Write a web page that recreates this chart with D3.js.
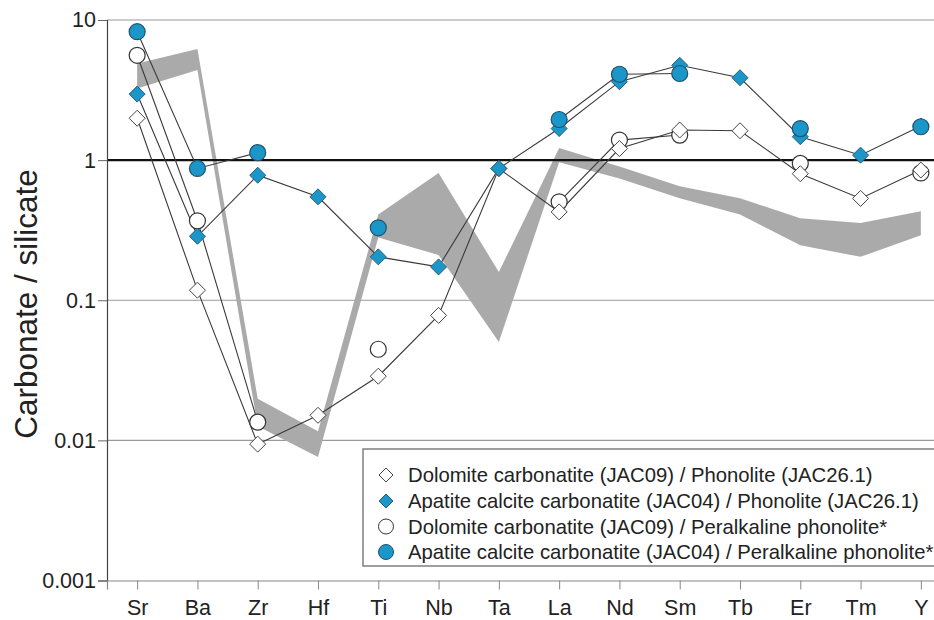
<!DOCTYPE html>
<html>
<head>
<meta charset="utf-8">
<script src="https://cdn.jsdelivr.net/npm/d3@7"></script>
<style>
  html, body { margin: 0; padding: 0; background: #fff; }
  svg { display: block; font-family: "Liberation Sans", Arial, sans-serif; }
</style>
</head>
<body>
<svg id="chart" width="934" height="620"></svg>
<script>
// ---- data ----
const categories = ["Sr","Ba","Zr","Hf","Ti","Nb","Ta","La","Nd","Sm","Tb","Er","Tm","Y"];
const yTicks = [0.001, 0.01, 0.1, 1, 10];

// Dolomite carbonatite (JAC09) / Phonolite (JAC26.1)
const dolPhon = [1.99, 0.118, 0.0094, 0.0151, 0.0287, 0.078, 0.87, 0.427, 1.21, 1.64, 1.62, 0.80, 0.533, 0.85];
// Apatite calcite carbonatite (JAC04) / Phonolite (JAC26.1)
const apPhon  = [2.96, 0.286, 0.78, 0.547, 0.204, 0.173, 0.872, 1.68, 3.63, 4.75, 3.87, 1.47, 1.085, 1.75];
// Dolomite carbonatite (JAC09) / Peralkaline phonolite*
const dolPer  = [5.6, 0.369, 0.0135, null, 0.0447, null, null, 0.504, 1.39, 1.51, null, 0.947, null, 0.81];
// Apatite calcite carbonatite (JAC04) / Peralkaline phonolite*
const apPer   = [8.25, 0.872, 1.13, null, 0.329, null, null, 1.95, 4.1, 4.15, null, 1.68, null, 1.73];

// grey reference field
const bandUpper = [4.9, 6.2, 0.0198, 0.0116, 0.41, 0.81, 0.159, 1.22, 0.9, 0.652, 0.535, 0.385, 0.356, 0.432];
const bandLower = [3.25, 4.4, 0.0126, 0.0076, 0.28, 0.21, 0.0504, 0.967, 0.74, 0.535, 0.41, 0.247, 0.204, 0.291];

const legendLabels = [
  "Dolomite carbonatite (JAC09) / Phonolite (JAC26.1)",
  "Apatite calcite carbonatite (JAC04) / Phonolite (JAC26.1)",
  "Dolomite carbonatite (JAC09) / Peralkaline phonolite*",
  "Apatite calcite carbonatite (JAC04) / Peralkaline phonolite*"
];

// ---- setup ----
const W = 934, H = 620;
const mLeft = 107, mTop = 20, mBottom = 580.5, mRight = 951;
const BLUE = "#1b96c9";
const svg = d3.select("#chart");

const x = d3.scalePoint().domain(categories).range([mLeft, mRight]).padding(0.5);
const y = d3.scaleLog().domain([0.001, 10]).range([mBottom, mTop]);

// gridlines
svg.append("g").selectAll("line").data(yTicks.filter(d => d !== 1 && d !== 0.001)).join("line")
  .attr("x1", mLeft).attr("x2", W).attr("y1", d => y(d)).attr("y2", d => y(d))
  .attr("stroke", "#9a9a9a").attr("stroke-width", 1.2);

// band
const band = categories.map((c, i) => ({c, u: bandUpper[i], l: bandLower[i]}));
svg.append("path").datum(band)
  .attr("d", d3.area().x(d => x(d.c)).y0(d => y(d.l)).y1(d => y(d.u)))
  .attr("fill", "#aaaaaa");

// line at 1
svg.append("line").attr("x1", mLeft).attr("x2", W).attr("y1", y(1)).attr("y2", y(1))
  .attr("stroke", "#111").attr("stroke-width", 2.2);

// axes
const yAxis = svg.append("g").attr("transform", `translate(${mLeft},0)`)
  .call(d3.axisLeft(y).tickValues(yTicks).tickFormat(d3.format("~g")).tickSize(9).tickPadding(2));
yAxis.select(".domain").attr("stroke", "#444").attr("stroke-width", 1.2);
yAxis.selectAll(".tick line").attr("stroke", "#666");
yAxis.selectAll(".tick text").attr("font-size", 21.5).attr("fill", "#222")
  .attr("font-family", "'Liberation Sans', Arial, sans-serif");

const xAxis = svg.append("g").attr("transform", `translate(0,${mBottom})`)
  .call(d3.axisBottom(x).tickSize(9).tickPadding(10));
xAxis.select(".domain").attr("stroke", "#888").attr("stroke-width", 1.2);
xAxis.selectAll(".tick line").attr("stroke", "#888");
xAxis.selectAll(".tick text").attr("font-size", 21.5).attr("fill", "#222")
  .attr("font-family", "'Liberation Sans', Arial, sans-serif");

// y title
svg.append("text").attr("transform", "translate(37,304) rotate(-90)")
  .attr("text-anchor", "middle").attr("font-size", 31.5).attr("fill", "#222")
  .text("Carbonate / silicate");

// series
const series = [
  {vals: dolPhon, shape: "diamond", fill: "#fff", stroke: "#444"},
  {vals: apPhon,  shape: "diamond", fill: BLUE, stroke: "#2a5d78"},
  {vals: dolPer,  shape: "circle",  fill: "#fff", stroke: "#333"},
  {vals: apPer,   shape: "circle",  fill: BLUE, stroke: "#23506a"}
];
const line = d3.line().defined(d => d.v != null).x(d => x(d.c)).y(d => y(d.v));
series.forEach(s => {
  s.pts = categories.map((c, i) => ({c, v: s.vals[i]}));
  svg.append("path").datum(s.pts).attr("d", line)
    .attr("fill", "none").attr("stroke", "#3a3a3a").attr("stroke-width", 1.1);
});

function drawMarker(g, shape, fill, stroke) {
  if (shape === "diamond") {
    g.append("path").attr("d", "M0,-8L8,0L0,8L-8,0Z")
      .attr("fill", fill).attr("stroke", stroke).attr("stroke-width", 1);
  } else {
    g.append("circle").attr("r", 8)
      .attr("fill", fill).attr("stroke", stroke).attr("stroke-width", 1.2);
  }
}
[2, 0, 1, 3].forEach(k => {
  const s = series[k];
  s.pts.filter(d => d.v != null).forEach(d => {
    const g = svg.append("g").attr("transform", `translate(${x(d.c)},${y(d.v)})`);
    drawMarker(g, s.shape, s.fill, s.stroke);
  });
});

// legend
const lg = svg.append("g");
lg.append("rect").attr("x", 363).attr("y", 449).attr("width", 620).attr("height", 117)
  .attr("fill", "#fff").attr("stroke", "#777").attr("stroke-width", 1.4);
const rowY = [475, 501, 526.5, 552];
legendLabels.forEach((t, i) => {
  const g = lg.append("g").attr("transform", `translate(386,${rowY[i]})`);
  const s = series[i];
  if (s.shape === "diamond") {
    g.append("path").attr("d", "M0,-7L7,0L0,7L-7,0Z")
      .attr("fill", s.fill).attr("stroke", s.stroke).attr("stroke-width", 1);
  } else {
    g.append("circle").attr("r", 7.5).attr("fill", s.fill).attr("stroke", s.stroke).attr("stroke-width", 1);
  }
  lg.append("text").attr("x", 408).attr("y", rowY[i]).attr("dy", "0.36em")
    .attr("font-size", 20.3).attr("fill", "#222").text(t);
});
</script>
</body>
</html>
